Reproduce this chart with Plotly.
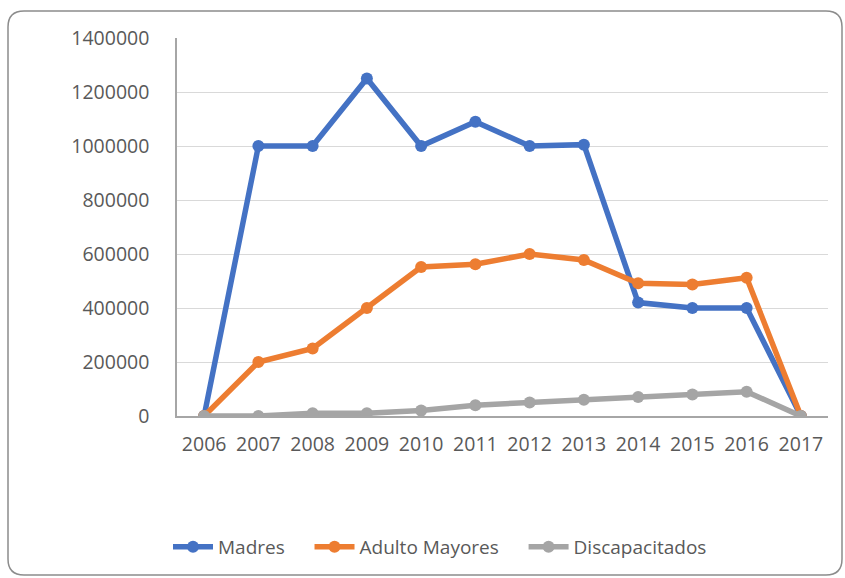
import plotly.graph_objects as go

years = ["2006", "2007", "2008", "2009", "2010", "2011", "2012", "2013", "2014", "2015", "2016", "2017"]
madres = [0, 1000000, 1000000, 1250000, 1000000, 1090000, 1000000, 1005000, 420000, 400000, 400000, 0]
adulto_mayores = [0, 200000, 250000, 400000, 552000, 562000, 600000, 578000, 492000, 487000, 512000, 0]
discapacitados = [0, 0, 10000, 10000, 20000, 40000, 50000, 60000, 70000, 80000, 90000, 0]
y_ticks = [0, 200000, 400000, 600000, 800000, 1000000, 1200000, 1400000]

pad = "\u00a0" * 4
series = [
    ("Madres", madres, "#4472C4", pad),
    ("Adulto Mayores", adulto_mayores, "#ED7D31", pad),
    ("Discapacitados", discapacitados, "#A5A5A5", ""),
]

fig = go.Figure()
for name, vals, col, sp in series:
    fig.add_trace(go.Scatter(
        x=years, y=vals, name=name + sp, mode="lines+markers",
        line=dict(color=col, width=5.5),
        marker=dict(color=col, size=12),
    ))

W, H = 845, 578
L, R, T, B = 177, 17, 38, 162
pw, ph = W - L - R, H - T - B

def px(x):
    return (x - L) / pw

def py(y):
    return (H - B - y) / ph

x0, x1, y0, y1, r = 8, 842, 11, 575, 16
path = (
    f"M {px(x0 + r)} {py(y0)} L {px(x1 - r)} {py(y0)} "
    f"Q {px(x1)} {py(y0)} {px(x1)} {py(y0 + r)} "
    f"L {px(x1)} {py(y1 - r)} Q {px(x1)} {py(y1)} {px(x1 - r)} {py(y1)} "
    f"L {px(x0 + r)} {py(y1)} Q {px(x0)} {py(y1)} {px(x0)} {py(y1 - r)} "
    f"L {px(x0)} {py(y0 + r)} Q {px(x0)} {py(y0)} {px(x0 + r)} {py(y0)} Z"
)

tick_font = dict(size=19.5, color="#595959")

fig.update_layout(
    width=W, height=H,
    margin=dict(l=L, r=R, t=T, b=B),
    paper_bgcolor="white", plot_bgcolor="white",
    font=dict(family="Open Sans", size=19, color="#595959"),
    showlegend=True,
    legend=dict(orientation="h", x=px(440), xanchor="center", y=py(547), yanchor="middle",
                font=dict(size=19, color="#595959"), itemwidth=40, tracegroupgap=0),
    shapes=[dict(type="path", xref="paper", yref="paper", path=path,
                 line=dict(color="#8C8C8C", width=1.5), layer="below")],
    xaxis=dict(type="category", range=[-0.5, 11.5], showgrid=False,
               showline=True, linecolor="#A6A6A6", linewidth=1.5,
               ticks="", ticklabelstandoff=10, tickfont=tick_font),
    yaxis=dict(range=[0, 1400000], tickvals=y_ticks, ticktext=[str(v) for v in y_ticks],
               showgrid=True, gridcolor="#D9D9D9", gridwidth=1.3,
               showline=True, linecolor="#A6A6A6", linewidth=1.5, zeroline=False,
               ticks="", ticklabelstandoff=22, tickfont=tick_font),
)

fig.write_html("out.html", config={"displayModeBar": False},
               post_script="document.body.style.margin='0';document.body.style.overflow='hidden';")
